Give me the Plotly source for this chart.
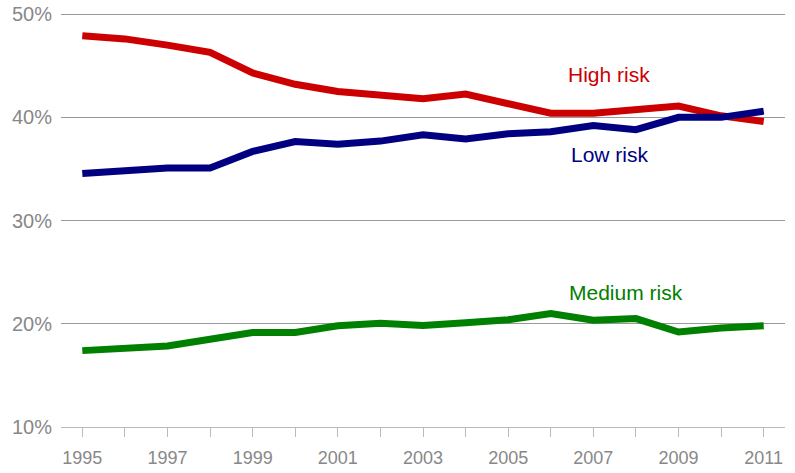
import plotly.graph_objects as go

years = list(range(1995, 2012))

high_risk = [47.9, 47.6, 47.0, 46.3, 44.3, 43.2, 42.5, 42.2, 41.8, 42.25, 41.3,
             40.4, 40.4, 40.7, 41.1, 40.15, 39.6]
low_risk = [34.55, 34.9, 35.1, 35.1, 36.7, 37.65, 37.4, 37.7, 38.3, 37.9, 38.4,
            38.6, 39.2, 38.8, 40.0, 40.0, 40.6]
medium_risk = [17.4, 17.6, 17.85, 18.5, 19.15, 19.15, 19.8, 20.06, 19.83, 20.1, 20.4,
               21.0, 20.35, 20.5, 19.2, 19.6, 19.8]

series = [
    ("High risk", high_risk, "#cc0000", 2007.36, 44.2),
    ("Low risk", low_risk, "#000080", 2007.4, 36.4),
    ("Medium risk", medium_risk, "#008000", 2007.76, 23.0),
]

y_ticks = [10, 20, 30, 40, 50]
y_labels = [f"{v}%" for v in y_ticks]
x_labels = [str(y) if y % 2 == 1 else "" for y in years]

FONT = "Liberation Sans, Arial, sans-serif"

fig = go.Figure()
for name, vals, color, lx, ly in series:
    fig.add_trace(go.Scatter(
        x=years, y=vals, mode="lines", name=name,
        line=dict(color=color, width=7), hoverinfo="skip",
    ))
    fig.add_annotation(
        x=lx, y=ly, text=name, showarrow=False,
        font=dict(family=FONT, size=21, color=color),
    )

fig.update_layout(
    width=795, height=473,
    margin=dict(l=61, r=10, t=10, b=46, autoexpand=False),
    paper_bgcolor="white", plot_bgcolor="white",
    showlegend=False,
    font=dict(family=FONT, color="#888888"),
)
fig.update_xaxes(
    range=[1994.5, 2011.5],
    tickvals=years, ticktext=x_labels,
    ticks="outside", ticklen=9, tickcolor="#bbbbbb", tickwidth=1,
    showgrid=False, zeroline=False,
    showline=True, linecolor="#bbbbbb", linewidth=1,
    tickfont=dict(size=18, color="#888888"),
    ticklabelstandoff=5,
    automargin=False,
)
fig.update_yaxes(
    range=[10, 50.4], tickvals=y_ticks, ticktext=y_labels,
    showgrid=True, gridcolor="#999999", gridwidth=1,
    zeroline=False, showline=False, ticks="",
    ticklabelstandoff=8,
    tickfont=dict(size=20, color="#888888"),
    automargin=False,
)

fig.write_html("out.html")
